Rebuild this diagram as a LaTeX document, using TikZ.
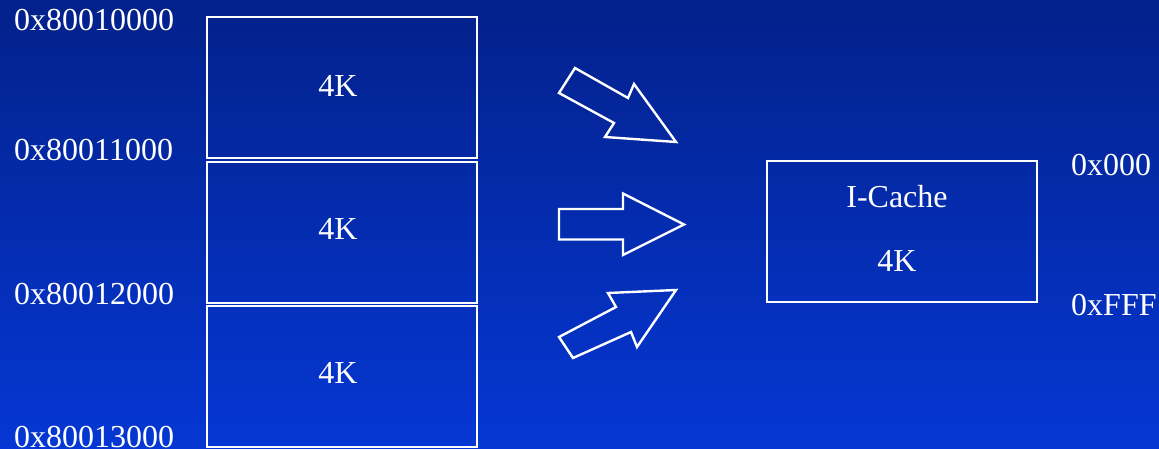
\documentclass[tikz,border=0pt]{standalone}
\usepackage{fontspec}
\setmainfont{Liberation Serif}
\definecolor{bgtop}{RGB}{3,33,138}
\definecolor{bgbot}{RGB}{5,55,212}
\begin{document}
\begin{tikzpicture}[x=1pt,y=-1pt,
  lbl/.style={text=white,font=\fontsize{32}{38}\selectfont,inner sep=0pt},
  membox/.style={draw=white,line width=2pt,minimum width=270pt,minimum height=141pt,inner sep=0pt,text=white,font=\fontsize{32}{38}\selectfont},
  fatarrow/.style={draw=white,line width=2.4pt,line join=miter}]
\shade[top color=bgtop,bottom color=bgbot] (0,0) rectangle (1159,449);
\useasboundingbox (0,0) rectangle (1159,449);
% memory blocks
\node[membox] (m1) at (342,88) {};
\node[membox] (m2) at (342,232.5) {};
\node[membox] (m3) at (342,376) {};
\node[lbl] (k1) at (338,86) {4K};
\node[lbl] (k2) at (338,229) {4K};
\node[lbl] (k3) at (338,373) {4K};
% address labels
\node[lbl,anchor=west] (a0) at (14,20) {0x80010000};
\node[lbl,anchor=west] (a1) at (14,150) {0x80011000};
\node[lbl,anchor=west] (a2) at (14,294) {0x80012000};
\node[lbl,anchor=west] (a3) at (14,437) {0x80013000};
% cache
\node[membox,minimum height=141pt] (cache) at (902,231.5) {};
\node[lbl] (ic) at (897,197) {I-Cache};
\node[lbl] (ck) at (897,261) {4K};
\node[lbl,anchor=west] (c0) at (1071,165) {0x000};
\node[lbl,anchor=west] (c1) at (1071,305) {0xFFF};
% arrows
\draw[fatarrow] (575,68) -- (628,98) -- (634,84) -- (676,142) -- (605,137) -- (614,123) -- (559,93) -- cycle;
\draw[fatarrow] (559,209) -- (623,209) -- (623,193.5) -- (684,224.5) -- (623,255) -- (623,239.5) -- (559,239.5) -- cycle;
\draw[fatarrow] (559,337) -- (616,307) -- (608,293) -- (676,290) -- (637,347) -- (631,332) -- (573,358) -- cycle;
\end{tikzpicture}
\end{document}
